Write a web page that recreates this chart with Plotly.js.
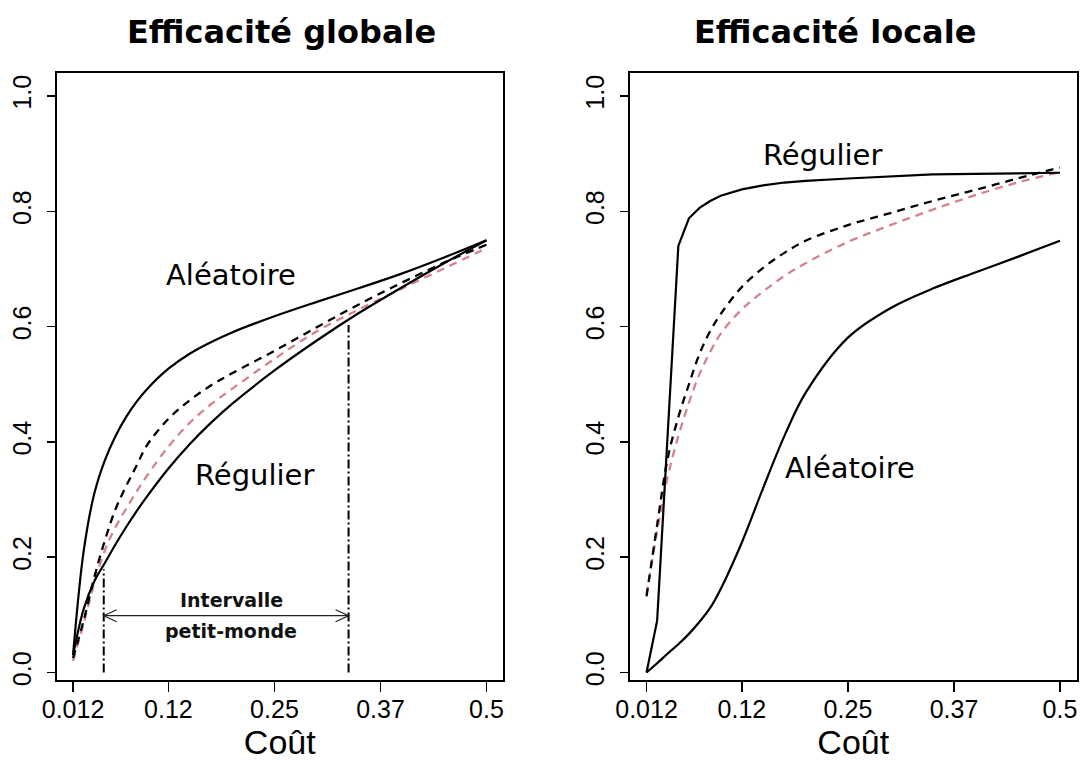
<!DOCTYPE html>
<html>
<head>
<meta charset="utf-8">
<script src="https://cdn.plot.ly/plotly-3.0.1.min.js"></script>
<style>html,body{margin:0;padding:0;background:#fff;}#chart{width:1081px;height:762px;}</style>
</head>
<body>
<div id="chart"></div>
<script>
// ---- data ----
const cost = [0.0125, 0.025, 0.0375, 0.05, 0.0625, 0.075, 0.0875, 0.1, 0.125, 0.15, 0.175, 0.2, 0.25, 0.3, 0.35, 0.4, 0.45, 0.5];

// Efficacité globale
const globalAleatoire = [0.03, 0.21, 0.31, 0.368, 0.41, 0.443, 0.47, 0.492, 0.527, 0.553, 0.573, 0.59, 0.618, 0.643, 0.667, 0.692, 0.72, 0.75];
const globalRegulier  = [0.03, 0.11, 0.158, 0.19, 0.222, 0.252, 0.28, 0.306, 0.354, 0.396, 0.433, 0.466, 0.524, 0.576, 0.624, 0.668, 0.71, 0.75];
const globalNoir      = [0.025, 0.09, 0.165, 0.229, 0.283, 0.323, 0.359, 0.395, 0.44, 0.472, 0.498, 0.519, 0.558, 0.599, 0.639, 0.676, 0.711, 0.742];
const globalRouge     = [0.02, 0.085, 0.155, 0.212, 0.252, 0.284, 0.314, 0.342, 0.392, 0.433, 0.465, 0.492, 0.544, 0.592, 0.63, 0.666, 0.701, 0.736];

// Efficacité locale
const localRegulier  = [0.0, 0.09, 0.415, 0.74, 0.788, 0.806, 0.818, 0.827, 0.838, 0.845, 0.85, 0.853, 0.857, 0.861, 0.864, 0.865, 0.866, 0.867];
const localAleatoire = [0.0, 0.016, 0.033, 0.049, 0.067, 0.088, 0.112, 0.145, 0.226, 0.32, 0.41, 0.485, 0.581, 0.632, 0.666, 0.694, 0.721, 0.749];
const localNoir      = [0.132, 0.256, 0.372, 0.443, 0.5, 0.553, 0.592, 0.622, 0.669, 0.702, 0.728, 0.749, 0.776, 0.797, 0.818, 0.837, 0.857, 0.876];
const localRouge     = [0.135, 0.245, 0.34, 0.41, 0.468, 0.518, 0.556, 0.588, 0.63, 0.661, 0.688, 0.71, 0.747, 0.776, 0.803, 0.828, 0.85, 0.868];

// small-world interval
const smallWorldBounds = [0.0487, 0.3374];
const smallWorldTops   = [0.179, 0.603];
const intervalArrowY   = 0.0986;

// ticks
const xTickVals = [0.0125, 0.125, 0.25, 0.375, 0.5];
const xTickText = ['0.012', '0.12', '0.25', '0.37', '0.5'];
const yTickVals = [0, 0.2, 0.4, 0.6, 0.8, 1.0];
const yTickText = ['0.0', '0.2', '0.4', '0.6', '0.8', '1.0'];

const titles = ['Efficacité globale', 'Efficacité locale'];
const xTitle = 'Coût';

// ---- styling ----
const W = 1081, H = 762;
const BLACK = '#000000';
const RED = '#d4838e';
const tickFont = {family: 'Liberation Sans, Arial, sans-serif', size: 25, color: BLACK};
const labelFont = {family: 'DejaVu Sans, sans-serif', size: 29, color: BLACK};

function solid(x, y, xa, ya, shape) {
  return {x: x, y: y, xaxis: xa, yaxis: ya, mode: 'lines', type: 'scatter',
    line: {color: BLACK, width: 2.2, shape: shape || 'spline', smoothing: 1}, hoverinfo: 'skip'};
}
function dashed(x, y, xa, ya, color) {
  return {x: x, y: y, xaxis: xa, yaxis: ya, mode: 'lines', type: 'scatter',
    line: {color: color, width: 2.3, dash: '8px,6px', shape: 'spline', smoothing: 1}, hoverinfo: 'skip'};
}

const traces = [
  dashed(cost, globalRouge, 'x', 'y', RED),
  dashed(cost, globalNoir, 'x', 'y', BLACK),
  solid(cost, globalAleatoire, 'x', 'y'),
  solid(cost, globalRegulier, 'x', 'y'),
  dashed(cost, localRouge, 'x2', 'y2', RED),
  dashed(cost, localNoir, 'x2', 'y2', BLACK),
  solid(cost, localAleatoire, 'x2', 'y2'),
  solid(cost, localRegulier, 'x2', 'y2', 'linear')
];

const yDomain = [1 - 680 / H, 1 - 73 / H];
function xAxis(domain, anchor) {
  return {domain: domain, anchor: anchor, range: [-0.007, 0.5195],
    tickmode: 'array', tickvals: xTickVals, ticktext: xTickText,
    ticks: 'outside', ticklen: 10, tickwidth: 1.5, tickcolor: BLACK,
    showline: true, linecolor: BLACK, linewidth: 2, mirror: true,
    showgrid: false, zeroline: false, tickfont: tickFont, ticklabelstandoff: -4,
    title: {text: xTitle, font: {family: 'Liberation Sans, Arial, sans-serif', size: 34, color: BLACK}, standoff: 6},
    fixedrange: true};
}
function yAxis(anchor) {
  return {domain: yDomain, anchor: anchor, range: [-0.013, 1.04],
    tickmode: 'array', tickvals: yTickVals, ticktext: yTickText, tickangle: -90,
    ticks: 'outside', ticklen: 8, tickwidth: 1.5, tickcolor: BLACK,
    showline: true, linecolor: BLACK, linewidth: 2, mirror: true,
    showgrid: false, zeroline: false, tickfont: tickFont, ticklabelstandoff: 6,
    fixedrange: true};
}

const shapes = [];
// vertical dash-dot bounds
for (let i = 0; i < smallWorldBounds.length; i++) {
  shapes.push({type: 'line', xref: 'x', yref: 'y', x0: smallWorldBounds[i], x1: smallWorldBounds[i],
    y0: 0, y1: smallWorldTops[i], line: {color: BLACK, width: 2, dash: '9px,3px,2px,3px'}});
}
// arrow shaft
shapes.push({type: 'line', xref: 'x', yref: 'y', x0: smallWorldBounds[0], x1: smallWorldBounds[1],
  y0: intervalArrowY, y1: intervalArrowY, line: {color: '#222', width: 1.2}});
// arrow heads (open V, in pixels relative to anchor)
shapes.push({type: 'path', xref: 'x', yref: 'y', xsizemode: 'pixel', ysizemode: 'pixel',
  xanchor: smallWorldBounds[0], yanchor: intervalArrowY, path: 'M13,6L0,0L13,-6',
  line: {color: '#222', width: 1.2}});
shapes.push({type: 'path', xref: 'x', yref: 'y', xsizemode: 'pixel', ysizemode: 'pixel',
  xanchor: smallWorldBounds[1], yanchor: intervalArrowY, path: 'M-13,6L0,0L-13,-6',
  line: {color: '#222', width: 1.2}});

const annotations = [
  {text: '<b>' + titles[0] + '</b>', xref: 'paper', yref: 'paper', x: 281 / W, y: 1 - 32 / H,
   xanchor: 'center', yanchor: 'middle', showarrow: false,
   font: {family: 'DejaVu Sans, sans-serif', size: 32, color: BLACK}},
  {text: '<b>' + titles[1] + '</b>', xref: 'paper', yref: 'paper', x: 835 / W, y: 1 - 32 / H,
   xanchor: 'center', yanchor: 'middle', showarrow: false,
   font: {family: 'DejaVu Sans, sans-serif', size: 32, color: BLACK}},
  {text: 'Aléatoire', xref: 'x', yref: 'y', x: 0.199, y: 0.69, showarrow: false, font: labelFont},
  {text: 'Régulier', xref: 'x', yref: 'y', x: 0.2264, y: 0.343, showarrow: false, font: labelFont},
  {text: 'Régulier', xref: 'x2', yref: 'y2', x: 0.2194, y: 0.898, showarrow: false, font: labelFont},
  {text: 'Aléatoire', xref: 'x2', yref: 'y2', x: 0.2529, y: 0.355, showarrow: false, font: labelFont},
  {text: '<b>Intervalle</b>', xref: 'x', yref: 'y', x: 0.1988, y: 0.126, showarrow: false,
   font: {family: 'DejaVu Sans, sans-serif', size: 19, color: '#111'}},
  {text: '<b>petit-monde</b>', xref: 'x', yref: 'y', x: 0.1988, y: 0.072, showarrow: false,
   font: {family: 'DejaVu Sans, sans-serif', size: 19, color: '#111'}}
];

const layout = {
  width: W, height: H,
  margin: {l: 0, r: 0, t: 0, b: 0, pad: 0},
  paper_bgcolor: '#ffffff', plot_bgcolor: '#ffffff',
  showlegend: false,
  xaxis: xAxis([56.5 / W, 503 / W], 'y'),
  yaxis: yAxis('x'),
  xaxis2: xAxis([630 / W, 1076.5 / W], 'y2'),
  yaxis2: yAxis('x2'),
  shapes: shapes,
  annotations: annotations
};

Plotly.newPlot('chart', traces, layout, {staticPlot: true, displayModeBar: false});
</script>
</body>
</html>
